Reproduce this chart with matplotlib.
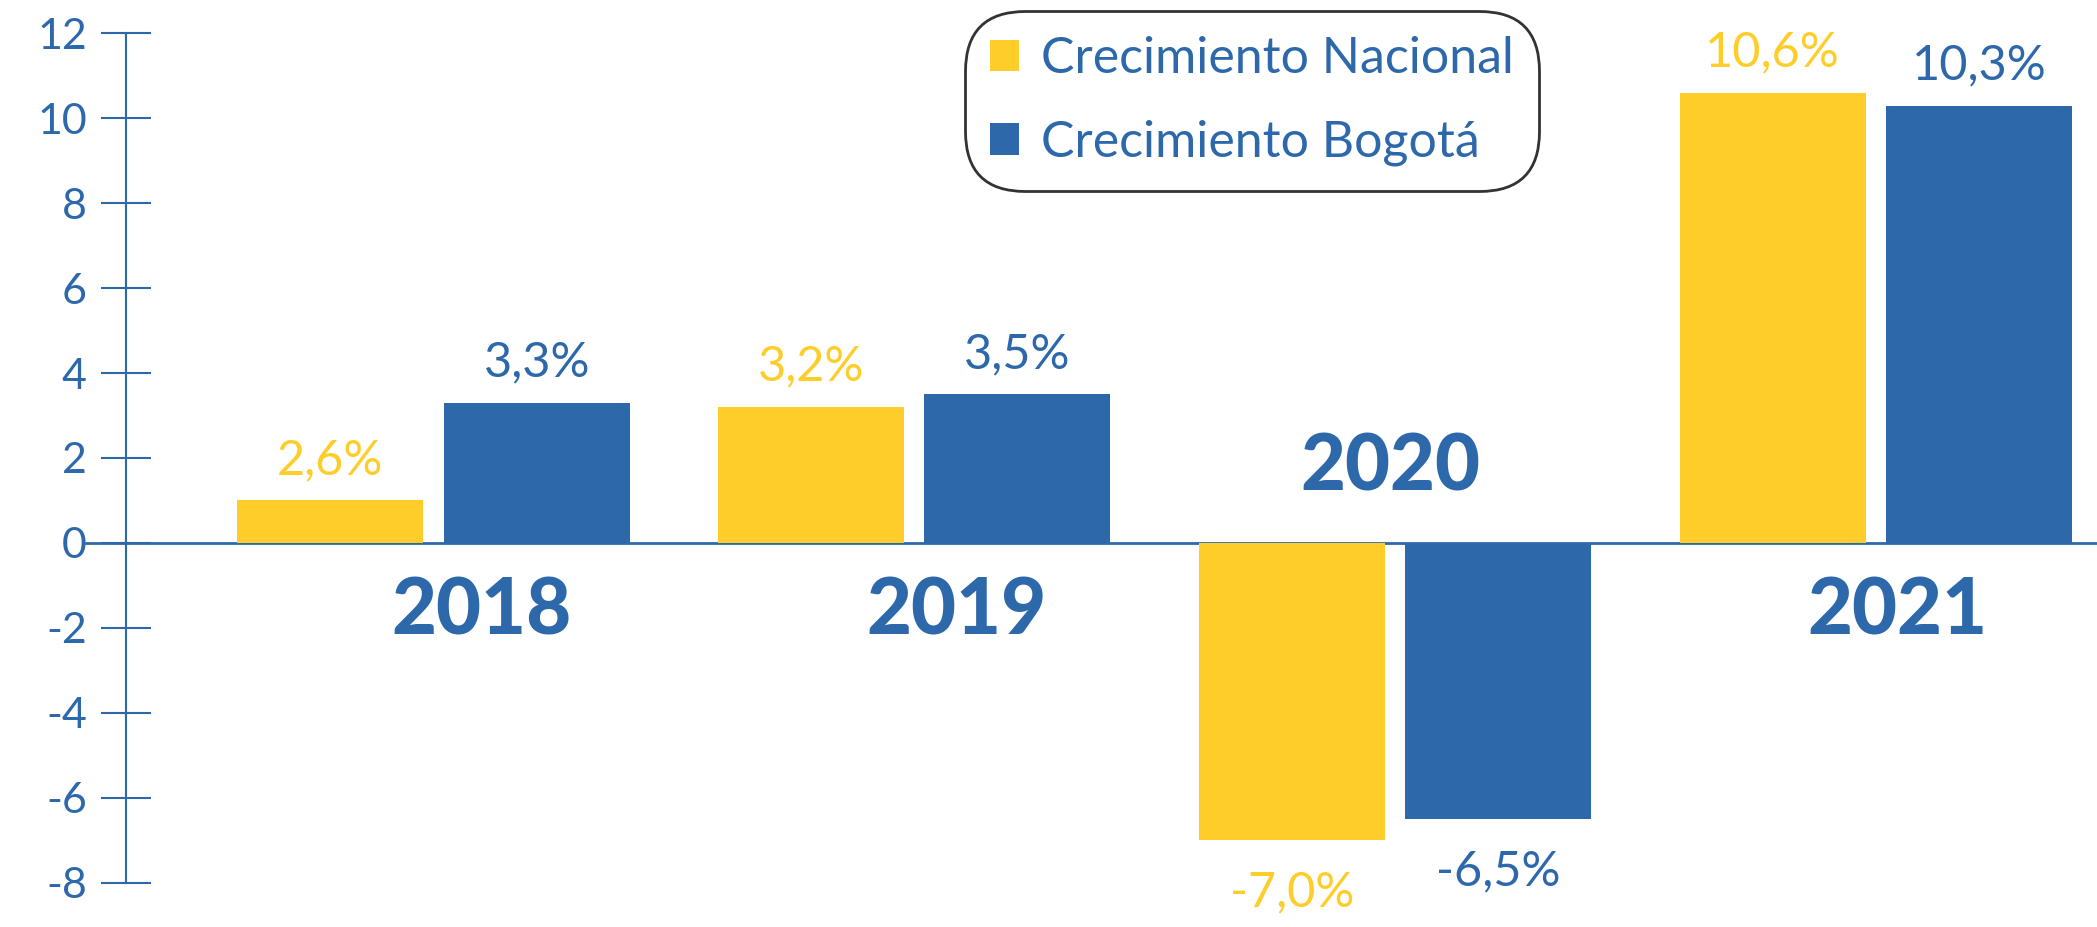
import matplotlib
matplotlib.use("Agg")
import matplotlib.pyplot as plt
import numpy as np

plt.rcParams['font.family'] = ['Lato', 'DejaVu Sans']

# data
years = ["2018", "2019", "2020", "2021"]
nacional = [1.0, 3.2, -7.0, 10.6]          # bar heights as drawn
bogota = [3.3, 3.5, -6.5, 10.3]
nacional_lbl = ["2,6%", "3,2%", "-7,0%", "10,6%"]
bogota_lbl = ["3,3%", "3,5%", "-6,5%", "10,3%"]
yticks = [-8, -6, -4, -2, 0, 2, 4, 6, 8, 10, 12]

YELLOW = "#FECD29"
BLUE = "#2D68AB"

fig = plt.figure(figsize=(20.97, 9.27), dpi=100)
ax = fig.add_axes([0.060, 0.048, 0.940, 0.916])

x = np.arange(len(years))
w = 0.387
off = 0.2145

b1 = ax.bar(x - off, nacional, w, color=YELLOW, label="Crecimiento Nacional", zorder=2)
b2 = ax.bar(x + off, bogota, w, color=BLUE, label="Crecimiento Bogotá", zorder=2)

ax.axhline(0, color=BLUE, lw=2, zorder=1, xmin=-0.02, clip_on=False)

# value labels
for bars, lbls, col in [(b1, nacional_lbl, YELLOW), (b2, bogota_lbl, BLUE)]:
    for rect, t in zip(bars, lbls):
        h = rect.get_height()
        cx = rect.get_x() + rect.get_width() / 2
        dy = 29 if h >= 0 else -38
        ax.annotate(t, (cx, h), xytext=(0, dy), textcoords="offset points",
                    ha="center", va="center", color=col, fontsize=35,
                    annotation_clip=False)

# year labels
year_dx = [0.10, 0.087, -0.01, 0.045]
year_y = [-1.62, -1.62, 1.77, -1.62]
for i, yr in enumerate(years):
    ax.text(i + year_dx[i], year_y[i], yr, ha="center", va="center",
            fontsize=56, fontweight="black", color=BLUE)

ax.set_xlim(-0.64, 3.46)
ax.set_ylim(-8, 12)
ax.set_yticks(yticks)
ax.set_yticklabels([str(v) for v in yticks])
ax.tick_params(axis="y", direction="inout", length=36, width=1.5, colors=BLUE,
               labelsize=31, pad=10)
ax.set_xticks([])
for s in ["top", "right", "bottom"]:
    ax.spines[s].set_visible(False)
ax.spines["left"].set_color(BLUE)
ax.spines["left"].set_linewidth(1.5)

leg = fig.legend(loc="upper left", bbox_to_anchor=(0.460, 0.988), fontsize=36,
                 frameon=True, fancybox=True, edgecolor="black",
                 handlelength=0.58, handleheight=0.58, handletextpad=0.45,
                 labelspacing=0.75, borderpad=0.5, borderaxespad=0)
leg.get_frame().set_linewidth(2)
leg.get_frame().set_boxstyle("round", pad=0, rounding_size=1.2)
for t in leg.get_texts():
    t.set_color(BLUE)

fig.savefig("out.png", dpi=100)
